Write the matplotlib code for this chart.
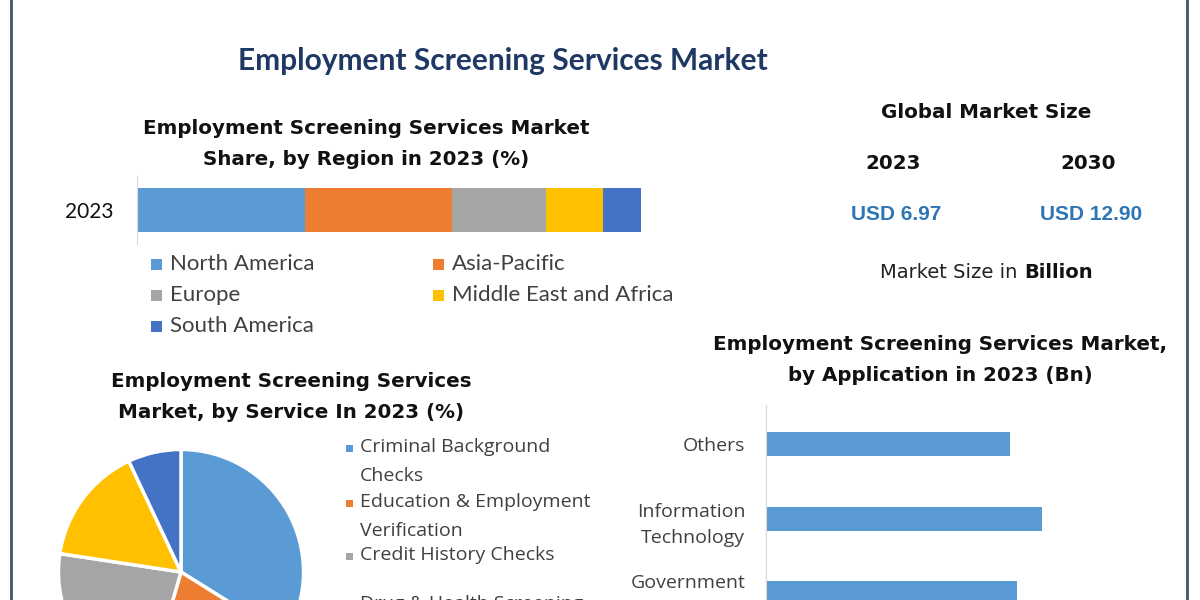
import matplotlib
matplotlib.use("Agg")
import matplotlib.pyplot as plt
from matplotlib.lines import Line2D
from matplotlib.patches import Rectangle
from matplotlib.transforms import ScaledTranslation

W, H = 1200, 600

# region share 2023 (%)
regions = ["North America", "Asia-Pacific", "Europe", "Middle East and Africa", "South America"]
region_share = [33.3, 29.2, 18.7, 11.3, 7.5]
region_colors = ["#5B9BD5", "#ED7D31", "#A5A5A5", "#FFC000", "#4472C4"]

# service share 2023 (%)
services = ["Criminal Background\nChecks", "Education & Employment\nVerification",
            "Credit History Checks", "Drug & Health Screening", "Others"]
service_share = [33.9, 20.6, 22.9, 15.6, 7.0]
service_colors = ["#5B9BD5", "#ED7D31", "#A5A5A5", "#FFC000", "#4472C4"]

# application 2023 (Bn)
applications = ["Others", "Information\nTechnology", "Government"]
app_values = [1.45, 1.64, 1.49]

market_years = ["2023", "2030"]
market_size = ["USD 6.97", "USD 12.90"]


def box(x0, y0, x1, y1):
    # pixel box (top-left origin) -> figure rect
    return [x0 / W, 1 - y1 / H, (x1 - x0) / W, (y1 - y0) / H]


def ftext(x, y, s, **kw):
    fig.text(x / W, 1 - y / H, s, **kw)


def square(xc, yc, size, color):
    fig.add_artist(Rectangle(((xc - size / 2) / W, 1 - (yc + size / 2) / H),
                             size / W, size / H, transform=fig.transFigure,
                             color=color, lw=0))


fig = plt.figure(figsize=(12, 6), dpi=100)
fig.patch.set_facecolor("white")

# frame lines
for xl in [11, 1187]:
    fig.add_artist(Line2D([xl / W, xl / W], [0, 1], color="#44546A", lw=2))

ftext(503, 61, "Employment Screening Services Market", ha="center", va="center",
      fontsize=21.5, fontweight="bold", color="#1F3864", family="Lato")

sub = dict(ha="center", va="center", fontsize=14.3, fontweight="bold", color="#111111",
           family="DejaVu Sans", linespacing=1.75)
ftext(366, 144, "Employment Screening Services Market\nShare, by Region in 2023 (%)", **sub)
ftext(291, 397, "Employment Screening Services\nMarket, by Service In 2023 (%)", **sub)
ftext(940, 360, "Employment Screening Services Market,\nby Application in 2023 (Bn)", **sub)

# global market size block
ftext(986, 112, "Global Market Size", ha="center", va="center", fontsize=14.3,
      fontweight="bold", color="#111111")
for xc, yr, val in zip([893, 1088], market_years, market_size):
    ftext(xc, 163, yr, ha="center", va="center", fontsize=14.3, fontweight="bold", color="#111111")
    ftext(xc + 3, 214, val, ha="center", va="center", fontsize=15, fontweight="bold",
          color="#2E75B6", family="Liberation Sans")
ftext(1024, 272, "Market Size in ", ha="right", va="center", fontsize=14, color="#222222")
ftext(1024, 272, "Billion", ha="left", va="center", fontsize=14, fontweight="bold", color="#111111")

# stacked bar by region
ax1 = fig.add_axes(box(137, 176, 641, 244))
left = 0
for name, v, c in zip(regions, region_share, region_colors):
    ax1.barh([0], [v], left=left, height=0.647, color=c, label=name)
    left += v
ax1.set_xlim(0, 100)
ax1.set_ylim(-0.5, 0.5)
ax1.set_xticks([])
ax1.set_yticks([0])
ax1.set_yticklabels(["2023"], fontsize=15, color="#111111", family="Lato")
ax1.tick_params(axis="y", length=0, pad=17)
for s in ["top", "right", "bottom"]:
    ax1.spines[s].set_visible(False)
ax1.spines["left"].set_color("#D9D9D9")

# region legend, two columns
reg_pos = [(170, 264), (452, 264), (170, 295), (452, 295), (170, 326)]
for (x, y), name, c in zip(reg_pos, regions, region_colors):
    square(x - 14, y, 11, c)
    ftext(x, y, name, ha="left", va="center", fontsize=16, color="#404040", family="Lato")

# pie by service
ax2 = fig.add_axes(box(56, 447, 306, 697))
ax2.pie(service_share, colors=service_colors, startangle=90, counterclock=False,
        wedgeprops=dict(edgecolor="white", linewidth=2.5))
ax2.set_xlim(-1.02, 1.02)
ax2.set_ylim(-1.02, 1.02)

svc_y = [447, 502, 555, 604, 650]
for y, name, c in zip(svc_y, services, service_colors):
    square(349, y + 1, 7, c)
    for k, line in enumerate(name.split("\n")):
        ftext(360, y + 29 * k, line, ha="left", va="center", fontsize=14, color="#404040",
              family="Open Sans")

# bars by application
ax3 = fig.add_axes(box(766, 405, 1180, 650))
ax3.barh(range(len(applications)), app_values, height=0.33, color="#5B9BD5")
ax3.set_xlim(0, 2.46)
ax3.set_ylim(2.75, -0.52)
ax3.set_xticks([])
ax3.set_yticks(range(len(applications)))
ax3.set_yticklabels(applications, fontsize=14, color="#404040", family="Open Sans",
                    linespacing=1.6)
ax3.tick_params(axis="y", length=0, pad=15)
for s in ["top", "right", "bottom"]:
    ax3.spines[s].set_visible(False)
ax3.spines["left"].set_color("#D9D9D9")
# government label sits on the first line of a wrapped label
gov = ax3.get_yticklabels()[2]
gov.set_transform(gov.get_transform() + ScaledTranslation(0, 0.13, fig.dpi_scale_trans))

plt.savefig("out.png", dpi=100)
